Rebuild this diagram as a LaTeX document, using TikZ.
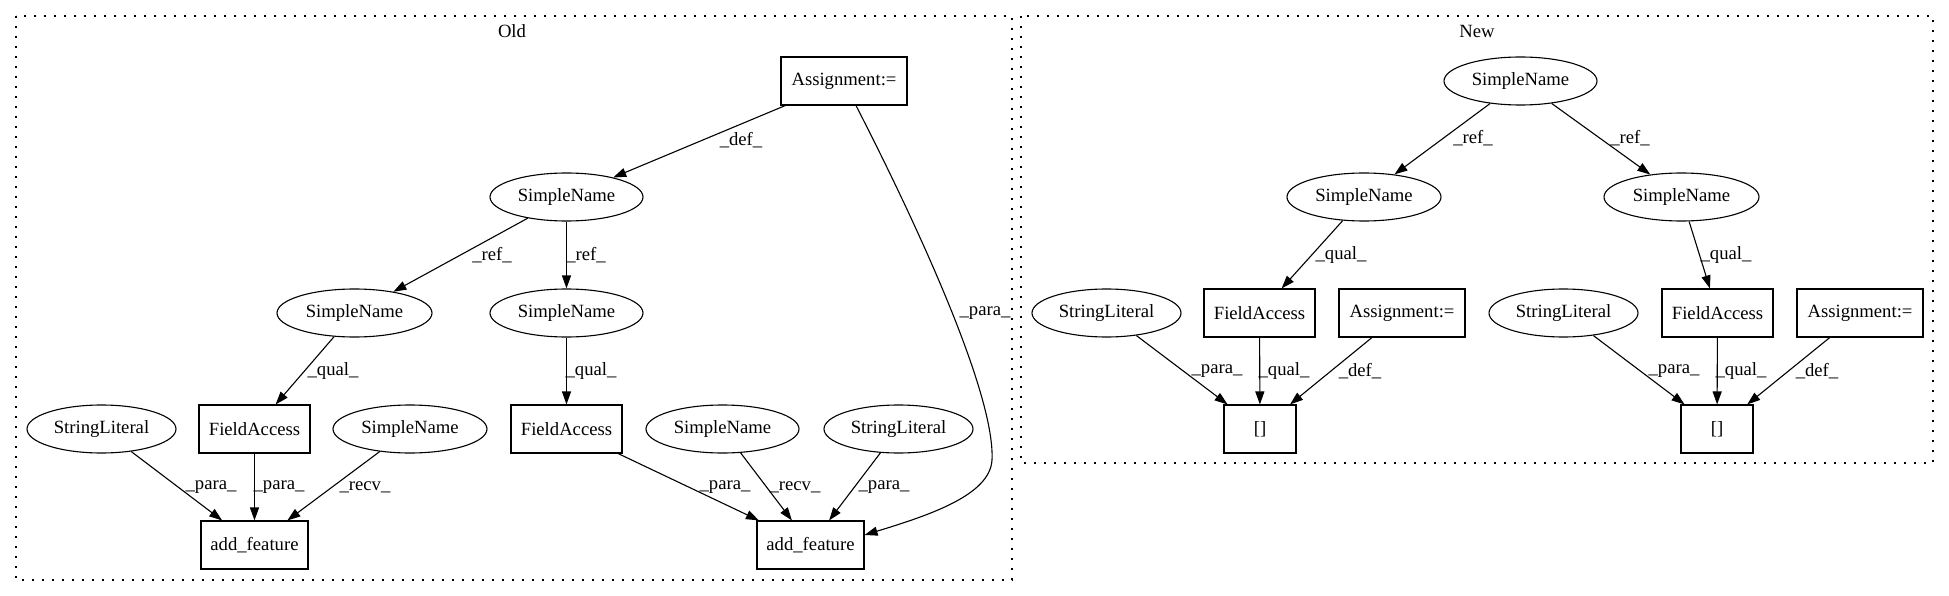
\documentclass[tikz,border=0pt]{standalone}
\usepackage{fontspec}
\setmainfont{Liberation Serif}
\usetikzlibrary{arrows.meta,shapes.geometric}
\begin{document}
\begin{tikzpicture}[x=1pt,y=-1pt,
  every node/.style={font=\fontsize{18.67pt}{22pt}\selectfont},
  ell/.style={draw,ellipse,line width=1.1pt,inner sep=0pt,minimum height=48pt},
  rbox/.style={draw,rectangle,line width=1.1pt,inner sep=0pt,minimum height=48pt},
  conn/.style={line width=1.1pt,-{Triangle[length=13pt,width=9pt]}},
  lbl/.style={inner sep=0pt},
  clusterbox/.style={line width=1.3pt,dash pattern=on 2pt off 8pt}]
\useasboundingbox (0,0) rectangle (1949,596);
% clusters
\draw[clusterbox] (16,16) rectangle (1012,580);
\draw[clusterbox] (1021,16) rectangle (1933,463);
\node[lbl] (oldT) at (512,31) {Old};
\node[lbl] (newT) at (1477,31) {New};
% Old nodes
\node[rbox,minimum width=126pt] (oA) at (844,81) {Assignment:=};
\node[ell,minimum width=153pt] (oS1) at (566.5,197) {SimpleName};
\node[ell,minimum width=155pt] (oS2) at (354.5,313) {SimpleName};
\node[ell,minimum width=153pt] (oS3) at (566.5,313) {SimpleName};
\node[ell,minimum width=149pt] (oL1) at (101.5,429) {StringLiteral};
\node[rbox,minimum width=111pt] (oF1) at (254.5,429) {FieldAccess};
\node[ell,minimum width=154pt] (oS4) at (410,429) {SimpleName};
\node[rbox,minimum width=111pt] (oF2) at (566.5,429) {FieldAccess};
\node[ell,minimum width=153pt] (oS5) at (722.5,429) {SimpleName};
\node[ell,minimum width=149pt] (oL2) at (898.5,429) {StringLiteral};
\node[rbox,minimum width=107pt] (oD1) at (254.5,545) {add\_feature};
\node[rbox,minimum width=107pt] (oD2) at (810.5,545) {add\_feature};
% New nodes
\node[ell,minimum width=153pt] (nS1) at (1520.5,81) {SimpleName};
\node[ell,minimum width=154pt] (nS2) at (1364,197) {SimpleName};
\node[ell,minimum width=155pt] (nS3) at (1681.5,197) {SimpleName};
\node[ell,minimum width=149pt] (nL1) at (1106.5,313) {StringLiteral};
\node[rbox,minimum width=111pt] (nF1) at (1259.5,313) {FieldAccess};
\node[rbox,minimum width=126pt] (nA1) at (1402,313) {Assignment:=};
\node[rbox,minimum width=72pt] (nB1) at (1260,429) {[]};
\node[ell,minimum width=149pt] (nL2) at (1563.5,313) {StringLiteral};
\node[rbox,minimum width=111pt] (nF2) at (1717.5,313) {FieldAccess};
\node[rbox,minimum width=126pt] (nA2) at (1860,313) {Assignment:=};
\node[rbox,minimum width=72pt] (nB2) at (1717,429) {[]};
% Old edges
\draw[conn] (oA) -- (oS1);
\draw[conn] (oS1) -- (oS2);
\draw[conn] (oS1) -- (oS3);
\draw[conn] (oS2) -- (oF1);
\draw[conn] (oS3) -- (oF2);
\draw[conn] (oL1) -- (oD1);
\draw[conn] (oF1) -- (oD1);
\draw[conn] (oS4) -- (oD1);
\draw[conn] (oF2) -- (oD2);
\draw[conn] (oS5) -- (oD2);
\draw[conn] (oL2) -- (oD2);
\draw[conn] ([xshift=12pt]oA.south) .. controls (930,250) and (995,400) .. (992,460)
  .. controls (990,495) and (930,515) .. (oD2.east |- 0,535);
% Old labels
\node[lbl] (l1) at (741,140) {\_def\_};
\node[lbl] (l2) at (492,255) {\_ref\_};
\node[lbl] (l3) at (586,255) {\_ref\_};
\node[lbl] (l4) at (333,371) {\_qual\_};
\node[lbl] (l5) at (591,371) {\_qual\_};
\node[lbl] (l6) at (211,487) {\_para\_};
\node[lbl] (l7) at (279,487) {\_para\_};
\node[lbl] (l8) at (365,487) {\_recv\_};
\node[lbl] (l9) at (725,487) {\_para\_};
\node[lbl] (l10) at (795,487) {\_recv\_};
\node[lbl] (l11) at (884,487) {\_para\_};
\node[lbl] (l12) at (985,313) {\_para\_};
% New edges
\draw[conn] (nS1) -- (nS2);
\draw[conn] (nS1) -- (nS3);
\draw[conn] (nS2) -- (nF1);
\draw[conn] (nS3) -- (nF2);
\draw[conn] (nL1) -- (nB1);
\draw[conn] (nF1) -- (nB1);
\draw[conn] (nA1) -- (nB1);
\draw[conn] (nL2) -- (nB2);
\draw[conn] (nF2) -- (nB2);
\draw[conn] (nA2) -- (nB2);
% New labels
\node[lbl] (m1) at (1473,138) {\_ref\_};
\node[lbl] (m2) at (1630,138) {\_ref\_};
\node[lbl] (m3) at (1341,255) {\_qual\_};
\node[lbl] (m4) at (1726,255) {\_qual\_};
\node[lbl] (m5) at (1217,371) {\_para\_};
\node[lbl] (m6) at (1284,371) {\_qual\_};
\node[lbl] (m7) at (1360,371) {\_def\_};
\node[lbl] (m8) at (1674,371) {\_para\_};
\node[lbl] (m9) at (1741,371) {\_qual\_};
\node[lbl] (m10) at (1817,371) {\_def\_};
\end{tikzpicture}
\end{document}
